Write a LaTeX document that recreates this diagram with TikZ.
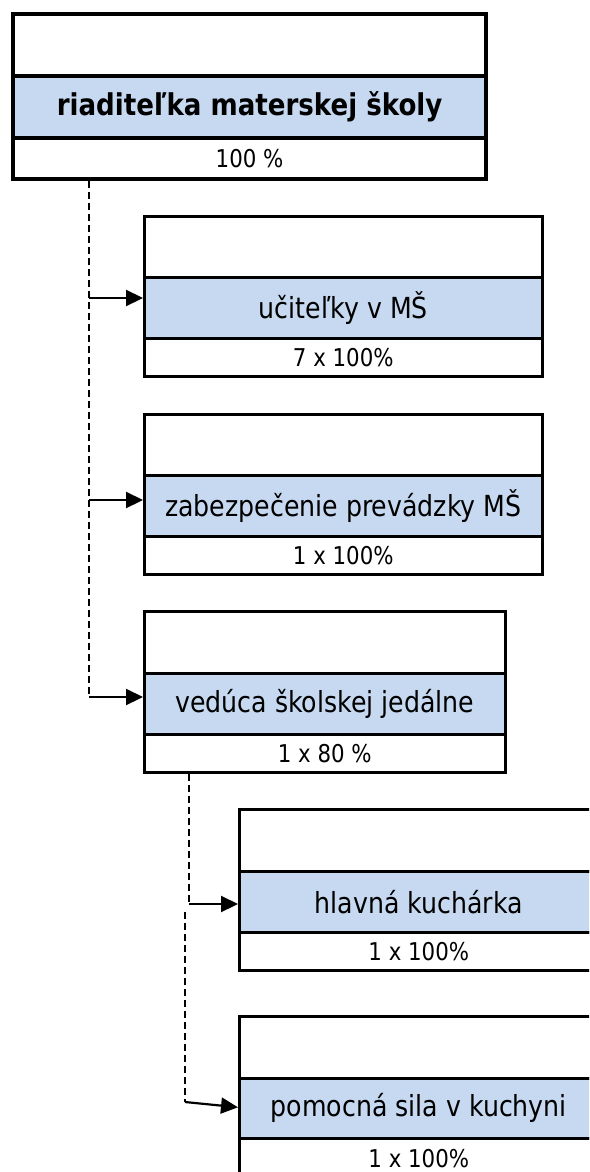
\documentclass[tikz,border=0pt]{standalone}
\usepackage{fontspec}
\usetikzlibrary{arrows.meta,calc}
\newfontfamily\tah[FakeStretch=0.87]{DejaVu Sans}
\definecolor{rowblue}{RGB}{198,217,241}
\begin{document}
\begin{tikzpicture}[x=1pt,y=-1pt,
  cell/.style={draw, rectangle, line width=2.6pt, inner sep=0pt, anchor=north west},
  head/.style={cell, line width=4.2pt},
  mainrow/.style={fill=rowblue, font=\tah\fontsize{29}{33}\selectfont},
  boldrow/.style={fill=rowblue, font=\tah\bfseries\fontsize{30}{34}\selectfont},
  pctrow/.style={font=\tah\fontsize{24.5}{28}\selectfont},
  dashline/.style={line width=2.2pt, dash pattern=on 7pt off 4pt},
  arr/.style={line width=2.2pt, -{Triangle[length=17pt,width=16pt]}}
]
\useasboundingbox (0,0) rectangle (589,1172);
\clip (0,0) rectangle (589,1172);

% director
\node[head, minimum width=473, minimum height=62] (b1t) at (11,12) {};
\node[head, boldrow, minimum width=473, minimum height=62] (b1m) at (11,74) {riaditeľka materskej školy};
\node[head, pctrow, minimum width=473, minimum height=41] (b1b) at (11,136) {100 \%};

% teachers
\node[cell, minimum width=398, minimum height=61] (b2t) at (143,215) {};
\node[cell, mainrow, minimum width=398, minimum height=61] (b2m) at (143,276) {učiteľky v MŠ};
\node[cell, pctrow, minimum width=398, minimum height=38] (b2b) at (143,337) {7 x 100\%};

% operations
\node[cell, minimum width=398, minimum height=61] (b3t) at (143,413) {};
\node[cell, mainrow, minimum width=398, minimum height=61] (b3m) at (143,474) {zabezpečenie prevádzky MŠ};
\node[cell, pctrow, minimum width=398, minimum height=38] (b3b) at (143,535) {1 x 100\%};

% canteen manager
\node[cell, minimum width=361, minimum height=62] (b4t) at (143,610) {};
\node[cell, mainrow, minimum width=361, minimum height=61] (b4m) at (143,672) {vedúca školskej jedálne};
\node[cell, pctrow, minimum width=361, minimum height=38] (b4b) at (143,733) {1 x 80 \%};

% head cook
\node[cell, minimum width=359, minimum height=62] (b5t) at (238,808) {};
\node[cell, mainrow, minimum width=359, minimum height=61] (b5m) at (238,870) {hlavná kuchárka};
\node[cell, pctrow, minimum width=359, minimum height=38] (b5b) at (238,931) {1 x 100\%};

% kitchen assistant
\node[cell, minimum width=359, minimum height=62] (b6t) at (238,1015) {};
\node[cell, mainrow, minimum width=359, minimum height=60] (b6m) at (238,1077) {pomocná sila v kuchyni};
\node[cell, pctrow, minimum width=359, minimum height=40] (b6b) at (238,1137) {1 x 100\%};

% connector junctions
\coordinate (d1) at (89,298);
\coordinate (d2) at (89,500);
\coordinate (d3) at (89,697);
\coordinate (d4) at (189,904);
\coordinate (d5a) at (185,912);
\coordinate (d5) at (185,1102);

\draw[dashline] (b1b.south -| d3) -- (d3);
\draw[arr] (d1) -- (d1 -| b2m.west);
\draw[arr] (d2) -- (d2 -| b3m.west);
\draw[arr] (d3) -- (d3 -| b4m.west);

\draw[dashline] (b4b.south -| d4) -- (d4);
\draw[arr] (d4) -- (d4 -| b5m.west);

\draw[dashline] (d5a) -- (d5);
\draw[arr] (d5) -- ($(b6m.west)+(0,-1)$);
\end{tikzpicture}
\end{document}
